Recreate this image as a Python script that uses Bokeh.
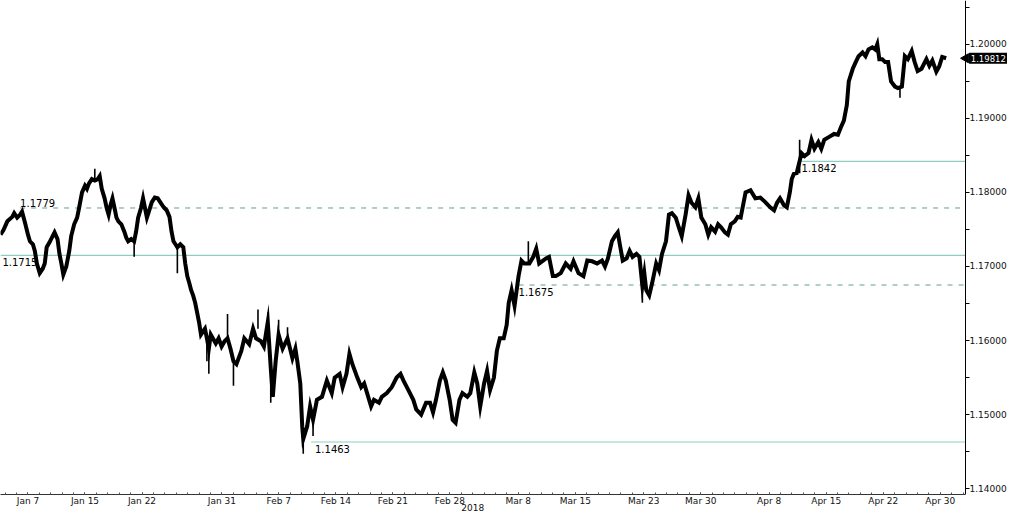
import math
from bokeh.plotting import figure
from bokeh.models import Range1d, FixedTicker, PrintfTickFormatter, LinearAxis, Label
from bokeh.core.properties import value
from bokeh.embed import file_html
from bokeh.resources import INLINE

# ---------------- data (x = trading-day index, weekends removed; y = price) -------------
day = [2.59, 2.84, 3.19, 3.62, 3.79, 4.05, 4.31, 4.48, 4.74, 5.00, 5.17, 5.43, 5.60, 5.78, 6.03,
       6.29, 6.47, 6.64, 6.90, 7.16, 7.33, 7.59, 7.76, 7.93, 8.10, 8.36, 8.62, 8.79, 9.05, 9.31,
       9.48, 9.74, 10.00, 10.17, 10.34, 10.60, 10.86, 11.12, 11.29, 11.47, 11.72, 11.90, 12.07,
       12.24, 12.41, 12.59, 12.76, 12.93, 13.19, 13.45, 13.62, 13.79, 14.05, 14.31, 14.48, 14.66,
       14.91, 15.09, 15.26, 15.43, 15.60, 15.86, 16.12, 16.38, 16.64, 16.90, 17.16, 17.41, 17.59,
       17.76, 17.93, 18.10, 18.36, 18.62, 18.79, 18.97, 19.14, 19.31, 19.48, 19.66, 19.83, 20.00,
       20.17, 20.34, 20.52, 20.69, 20.86, 21.03, 21.21, 21.47, 21.72, 21.98, 22.24, 22.50, 22.76,
       23.02, 23.28, 23.71, 23.97, 24.40, 24.74, 25.00, 25.43, 25.69, 26.03, 26.29, 26.47, 26.72,
       26.98, 27.33, 27.76, 28.19, 28.45, 28.62, 28.88, 29.05, 29.14, 29.48, 29.74, 30.00, 30.34,
       30.78, 31.21, 31.64, 31.90, 32.33, 32.59, 32.93, 33.19, 33.45, 33.88, 34.22, 34.48, 34.74,
       35.09, 35.34, 35.78, 36.03, 36.47, 36.90, 37.33, 37.67, 37.93, 38.36, 38.79, 39.05, 39.48,
       39.91, 40.26, 40.52, 40.78, 41.12, 41.38, 41.64, 41.98, 42.24, 42.50, 42.84, 43.10, 43.53,
       43.79, 44.14, 44.40, 44.66, 45.00, 45.26, 45.52, 45.86, 46.12, 46.38, 46.72, 46.98, 47.16,
       47.41, 47.67, 48.02, 48.28, 48.53, 48.97, 49.31, 49.57, 49.83, 50.17, 50.43, 50.69, 51.03,
       51.29, 51.72, 52.16, 52.59, 52.84, 53.28, 53.71, 54.05, 54.48, 54.91, 55.34, 55.60, 55.86,
       56.21, 56.47, 56.72, 56.90, 57.16, 57.50, 57.76, 58.02, 58.36, 58.62, 58.88, 59.05, 59.22,
       59.48, 59.74, 60.09, 60.34, 60.60, 60.95, 61.21, 61.47, 61.81, 62.07, 62.33, 62.67, 62.93,
       63.19, 63.53, 63.79, 64.05, 64.40, 64.66, 64.91, 65.26, 65.52, 65.78, 66.12, 66.38, 66.64,
       66.98, 67.24, 67.50, 67.93, 68.36, 68.79, 69.22, 69.66, 70.09, 70.43, 70.69, 70.95, 71.29,
       71.55, 71.81, 71.98, 72.16, 72.41, 72.84, 73.10, 73.45, 73.71, 73.97, 74.31, 74.57, 74.83,
       75.26, 75.69, 76.03, 76.29, 76.55, 76.81, 76.98, 77.33, 77.59, 77.84, 78.19, 78.45, 78.71,
       79.05, 79.31, 79.48, 79.66, 79.91, 80.17, 80.43, 80.69, 81.03, 81.29, 81.64, 81.90, 82.16,
       82.50, 82.76, 83.02, 83.36, 83.79, 84.05, 84.31, 84.66, 84.91, 85.17, 85.52]

price = [1.1743, 1.1749, 1.1761, 1.1767, 1.1772, 1.1766, 1.1770, 1.1774, 1.1759, 1.1743, 1.1734,
         1.1730, 1.1721, 1.1704, 1.1691, 1.1697, 1.1704, 1.1726, 1.1733, 1.1741, 1.1746, 1.1737,
         1.1717, 1.1704, 1.1689, 1.1700, 1.1721, 1.1741, 1.1757, 1.1766, 1.1779, 1.1800, 1.1809,
         1.1805, 1.1812, 1.1818, 1.1816, 1.1818, 1.1822, 1.1805, 1.1792, 1.1779, 1.1770, 1.1783,
         1.1792, 1.1779, 1.1766, 1.1761, 1.1757, 1.1747, 1.1739, 1.1734, 1.1737, 1.1734, 1.1747,
         1.1766, 1.1779, 1.1792, 1.1779, 1.1766, 1.1774, 1.1787, 1.1793, 1.1792, 1.1786, 1.1780,
         1.1776, 1.1767, 1.1747, 1.1734, 1.1730, 1.1726, 1.1730, 1.1726, 1.1704, 1.1687, 1.1678,
         1.1668, 1.1661, 1.1651, 1.1638, 1.1625, 1.1608, 1.1612, 1.1616, 1.1603, 1.1589, 1.1608,
         1.1603, 1.1596, 1.1603, 1.1592, 1.1599, 1.1603, 1.1589, 1.1572, 1.1568, 1.1586, 1.1603,
         1.1595, 1.1616, 1.1603, 1.1599, 1.1592, 1.1625, 1.1563, 1.1524, 1.1572, 1.1608, 1.1589,
         1.1603, 1.1576, 1.1589, 1.1572, 1.1542, 1.1484, 1.1467, 1.1484, 1.1511, 1.1493, 1.1520,
         1.1524, 1.1546, 1.1529, 1.1550, 1.1555, 1.1537, 1.1555, 1.1582, 1.1568, 1.1550, 1.1537,
         1.1542, 1.1529, 1.1511, 1.1520, 1.1516, 1.1524, 1.1529, 1.1537, 1.1550, 1.1555, 1.1546,
         1.1533, 1.1520, 1.1507, 1.1500, 1.1516, 1.1516, 1.1503, 1.1520, 1.1546, 1.1557, 1.1546,
         1.1520, 1.1493, 1.1489, 1.1520, 1.1529, 1.1524, 1.1529, 1.1557, 1.1542, 1.1511, 1.1542,
         1.1559, 1.1533, 1.1550, 1.1586, 1.1603, 1.1603, 1.1621, 1.1651, 1.1668, 1.1647, 1.1687,
         1.1708, 1.1704, 1.1704, 1.1713, 1.1724, 1.1704, 1.1708, 1.1711, 1.1713, 1.1687, 1.1687,
         1.1691, 1.1704, 1.1697, 1.1707, 1.1691, 1.1687, 1.1708, 1.1707, 1.1704, 1.1708, 1.1700,
         1.1711, 1.1734, 1.1741, 1.1746, 1.1730, 1.1708, 1.1711, 1.1721, 1.1713, 1.1717, 1.1713,
         1.1674, 1.1691, 1.1668, 1.1661, 1.1678, 1.1704, 1.1695, 1.1717, 1.1734, 1.1770, 1.1772,
         1.1766, 1.1753, 1.1741, 1.1770, 1.1796, 1.1786, 1.1780, 1.1792, 1.1766, 1.1757, 1.1743,
         1.1753, 1.1747, 1.1757, 1.1753, 1.1746, 1.1743, 1.1757, 1.1761, 1.1767, 1.1766, 1.1800,
         1.1803, 1.1792, 1.1793, 1.1787, 1.1780, 1.1776, 1.1786, 1.1792, 1.1783, 1.1780, 1.1800,
         1.1818, 1.1825, 1.1826, 1.1853, 1.1849, 1.1853, 1.1871, 1.1859, 1.1868, 1.1859, 1.1871,
         1.1875, 1.1879, 1.1878, 1.1888, 1.1897, 1.1918, 1.1950, 1.1967, 1.1976, 1.1984, 1.1989,
         1.1984, 1.1993, 1.1996, 1.1993, 1.2000, 1.1980, 1.1980, 1.1976, 1.1976, 1.1950, 1.1943,
         1.1941, 1.1943, 1.1984, 1.1980, 1.1991, 1.1976, 1.1964, 1.1967, 1.1980, 1.1971, 1.1978,
         1.1963, 1.1970, 1.1983, 1.19812]

# short-lived spikes (tick extremes)
spike_day = [10.86, 14.31, 18.10, 20.69, 20.86, 22.50, 23.02, 25.17, 26.03, 26.29, 26.98, 27.76,
             29.14, 30.00, 48.88, 58.88, 72.67, 81.47]
spike_from = [1.1816, 1.1734, 1.1726, 1.1603, 1.1589, 1.1603, 1.1572, 1.1616, 1.1625, 1.1563,
              1.1608, 1.1603, 1.1467, 1.1493, 1.1704, 1.1674, 1.1826, 1.1943]
spike_to = [1.1832, 1.1713, 1.1691, 1.1572, 1.1555, 1.1636, 1.1539, 1.1642, 1.1638, 1.1516,
            1.1628, 1.1618, 1.1447, 1.1471, 1.1734, 1.1651, 1.1871, 1.1928]

# support / resistance levels
solid_levels = [1.1715, 1.1463, 1.1842]
solid_start = [2.59, 29.83, 72.84]
dashed_levels = [1.1779, 1.1675]
dashed_start = [4.31, 48.02]
label_above_text = ["1.1779"]
label_above_day = [4.31]
label_above_val = [1.1779]
label_below_text = ["1.1715", "1.1463", "1.1675", "1.1842"]
label_below_day = [2.76, 30.17, 48.02, 72.84]
label_below_val = [1.1715, 1.1463, 1.1675, 1.1842]

last_price = 1.19812
last_text = "1.19812"

tick_days = [5, 10, 15, 22, 27, 32, 37, 42, 48, 53, 59, 64, 70, 75, 80, 85]
tick_labels = ["Jan 7", "Jan 15", "Jan 22", "Jan 31", "Feb 7", "Feb 14", "Feb 21", "Feb 28",
               "Mar 8", "Mar 15", "Mar 23", "Mar 30", "Apr 8", "Apr 15", "Apr 22", "Apr 30"]
year_day = [44]
year_label = ["2018"]
y_ticks = [1.14, 1.15, 1.16, 1.17, 1.18, 1.19, 1.20]
y_minor = [1.145, 1.155, 1.165, 1.175, 1.185, 1.195, 1.205]

X_START = 2.59     # left edge of the chart
X_AXIS = 87.24     # where the price axis stands
X_FULL = 90.9      # room for the price labels to the right of the axis
Y_MIN, Y_MAX = 1.13921, 1.20592

# ---------------- figure -------------
FONT = "DejaVu Sans"
p = figure(width=1007, height=513, output_backend="svg", toolbar_location=None,
           x_range=Range1d(X_START, X_FULL), y_range=Range1d(Y_MIN, Y_MAX),
           y_axis_location="left", min_border=0)
p.xgrid.visible = False
p.ygrid.visible = False
p.outline_line_color = None
p.background_fill_color = "white"
p.border_fill_color = "white"

LEVEL_COLOR = "#8ccfc2"
p.segment(x0=solid_start, y0=solid_levels, x1=[X_AXIS] * len(solid_levels), y1=solid_levels,
          line_color=LEVEL_COLOR, line_width=1.2)
p.segment(x0=dashed_start, y0=dashed_levels, x1=[X_AXIS] * len(dashed_levels), y1=dashed_levels,
          line_color="#5f9f95", line_width=1, line_dash="5 6")

p.segment(x0=spike_day, y0=spike_from, x1=spike_day, y1=spike_to, line_color="black", line_width=1.6)
p.line(day, price, line_color="black", line_width=4, line_join="miter")

p.text(x=label_above_day, y=label_above_val, text=label_above_text, text_font=value(FONT),
       text_font_size="10px", text_color="black", text_baseline="bottom", y_offset=-1)
p.text(x=label_below_day, y=label_below_val, text=label_below_text, text_font=value(FONT),
       text_font_size="10px", text_color="black", text_baseline="top", y_offset=3)

# price axis: pinned at X_AXIS, ticks and labels drawn to its right
ya = p.yaxis[0]
ya.fixed_location = X_AXIS
ya.ticker = FixedTicker(ticks=y_ticks, minor_ticks=y_minor)
ya.formatter = PrintfTickFormatter(format="\u00a0\u00a0%.5f")
ya.axis_line_color = "black"
ya.major_tick_line_color = "black"
ya.minor_tick_line_color = "black"
ya.major_tick_out = 0
ya.major_tick_in = 4
ya.minor_tick_out = 0
ya.minor_tick_in = 4
ya.major_label_standoff = -41
ya.major_label_text_font = FONT
ya.major_label_text_font_size = "9px"
ya.major_label_text_color = "#111111"

# last-value tag
p.scatter(x=[X_AXIS], y=[last_price], marker="triangle", size=9, angle=math.pi / 2,
          fill_color="black", line_color="black")
p.add_layout(Label(x=X_AXIS, y=last_price, text=last_text, x_offset=3,
                   text_font=FONT, text_font_size="8.5px", text_color="white",
                   text_baseline="middle", text_align="left",
                   background_fill_color="black", padding=2, border_radius=1))

# x axis (below)
xa = p.xaxis[0]
xa.bounds = (X_START, X_AXIS)
xa.ticker = FixedTicker(ticks=tick_days, minor_ticks=list(range(3, 88)))
xa.major_label_overrides = {d: t for d, t in zip(tick_days, tick_labels)}
xa.axis_line_color = "#333333"
xa.major_tick_line_color = "#333333"
xa.minor_tick_line_color = "#555555"
xa.major_tick_in = 2
xa.major_tick_out = 0
xa.minor_tick_in = 2
xa.minor_tick_out = 0
xa.major_label_standoff = 1
xa.major_label_text_font = FONT
xa.major_label_text_font_size = "9px"
xa.major_label_text_color = "#111111"

year_axis = LinearAxis(ticker=FixedTicker(ticks=year_day),
                       major_label_overrides={d: t for d, t in zip(year_day, year_label)},
                       axis_line_color=None, major_tick_line_color=None,
                       minor_tick_line_color=None, major_label_standoff=-5,
                       major_tick_in=0, major_tick_out=0, minor_tick_in=0, minor_tick_out=0,
                       major_label_text_font=FONT, major_label_text_font_size="9px",
                       major_label_text_color="#111111")
p.add_layout(year_axis, "below")

open("out.html", "w").write(file_html(p, INLINE))
